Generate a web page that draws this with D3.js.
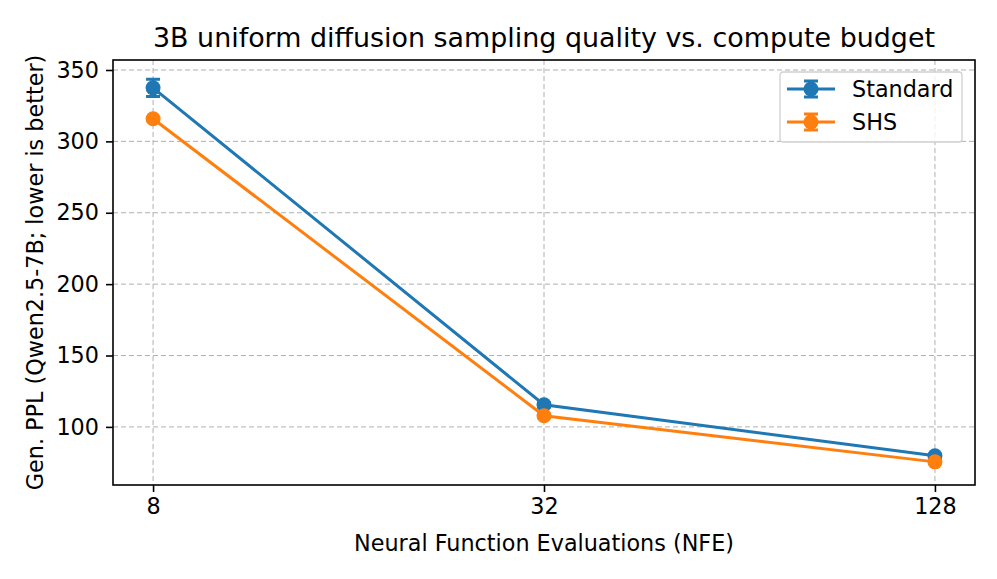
<!DOCTYPE html>
<html>
<head>
<meta charset="utf-8">
<script src="https://cdn.jsdelivr.net/npm/d3@7"></script>
<style>
  body { margin: 0; background: #fff; }
  svg { font-family: "DejaVu Sans", sans-serif; }
</style>
</head>
<body>
<div id="chart"></div>
<script>
// data
const nfe = [8, 32, 128];
const seriesNames = ["Standard", "SHS"];
const standardPpl = [337.5, 115.5, 79.8];
const standardErr = [6, 1.5, 1];
const shsPpl = [315.8, 107.8, 75.5];
const shsErr = [1, 1, 0.8];
const yTicks = [100, 150, 200, 250, 300, 350];
const colors = ["#1f77b4", "#ff7f0e"];

const width = 997, height = 579;
const margin = {top: 60, right: 22, bottom: 94, left: 113};
const fs = 22.3;

const svg = d3.select("#chart").append("svg")
    .attr("width", width)
    .attr("height", height);

const x = d3.scaleLog().base(2)
    .domain([Math.pow(2, 2.795), Math.pow(2, 7.205)])
    .range([margin.left, width - margin.right]);

const y = d3.scaleLinear()
    .domain([59.3, 357])
    .range([height - margin.bottom, margin.top]);

// grid
const grid = svg.append("g");
grid.selectAll(".gx").data(nfe).enter().append("line")
    .attr("x1", d => x(d)).attr("x2", d => x(d))
    .attr("y1", margin.top).attr("y2", height - margin.bottom)
    .attr("stroke", "#b0b0b0").attr("stroke-width", 1).attr("stroke-dasharray", "5,3");
grid.selectAll(".gy").data(yTicks).enter().append("line")
    .attr("x1", margin.left).attr("x2", width - margin.right)
    .attr("y1", d => y(d)).attr("y2", d => y(d))
    .attr("stroke", "#b0b0b0").attr("stroke-width", 1).attr("stroke-dasharray", "5,3");

// axes
const xAxis = svg.append("g")
    .attr("transform", `translate(0,${height - margin.bottom})`)
    .call(d3.axisBottom(x).tickValues(nfe).tickFormat(d3.format("d")).tickSize(7).tickPadding(6));
const yAxis = svg.append("g")
    .attr("transform", `translate(${margin.left},0)`)
    .call(d3.axisLeft(y).tickValues(yTicks).tickSize(7).tickPadding(7));
[xAxis, yAxis].forEach(a => {
    a.select(".domain").remove();
    a.selectAll("text").attr("font-size", fs).attr("fill", "#000").attr("font-family", "DejaVu Sans");
    a.selectAll("line").attr("stroke", "#000").attr("stroke-width", 1.6);
});

// frame
svg.append("rect")
    .attr("x", margin.left).attr("y", margin.top)
    .attr("width", width - margin.left - margin.right)
    .attr("height", height - margin.top - margin.bottom)
    .attr("fill", "none").attr("stroke", "#000").attr("stroke-width", 1.6);

// series
const series = [
    {name: seriesNames[0], vals: standardPpl, err: standardErr, color: colors[0]},
    {name: seriesNames[1], vals: shsPpl, err: shsErr, color: colors[1]}
];
const line = d3.line().x(d => x(d[0])).y(d => y(d[1]));

series.forEach(s => {
    const pts = nfe.map((n, i) => [n, s.vals[i], s.err[i]]);
    const g = svg.append("g");
    g.append("path").datum(pts)
        .attr("d", line).attr("fill", "none")
        .attr("stroke", s.color).attr("stroke-width", 3);
    g.selectAll(".eb").data(pts).enter().append("path")
        .attr("d", d => {
            const cx = x(d[0]), y0 = y(d[1] - d[2]), y1 = y(d[1] + d[2]);
            return `M${cx},${y0}V${y1}M${cx - 7},${y0}H${cx + 7}M${cx - 7},${y1}H${cx + 7}`;
        })
        .attr("stroke", s.color).attr("stroke-width", 3).attr("fill", "none");
    g.selectAll("circle").data(pts).enter().append("circle")
        .attr("cx", d => x(d[0])).attr("cy", d => y(d[1]))
        .attr("r", 7.5).attr("fill", s.color);
});

// legend
const lg = svg.append("g").attr("transform", "translate(780,72)");
lg.append("rect").attr("width", 182).attr("height", 70).attr("rx", 3)
    .attr("fill", "#fff").attr("fill-opacity", 0.8)
    .attr("stroke", "#d0d0d0").attr("stroke-width", 1.3);
series.forEach((s, i) => {
    const cy = 17 + i * 33;
    const item = lg.append("g").attr("transform", `translate(0,${cy})`);
    item.append("line").attr("x1", 7).attr("x2", 55).attr("y1", 0).attr("y2", 0)
        .attr("stroke", s.color).attr("stroke-width", 3);
    item.append("path").attr("d", "M31,-8V8M24,-8H38M24,8H38")
        .attr("stroke", s.color).attr("stroke-width", 3);
    item.append("circle").attr("cx", 31).attr("cy", 0).attr("r", 7.5).attr("fill", s.color);
    item.append("text").attr("x", 72).attr("y", 0).attr("dy", "0.35em")
        .attr("font-size", fs).text(s.name);
});

// title and labels
svg.append("text")
    .attr("x", (margin.left + width - margin.right) / 2).attr("y", 47)
    .attr("text-anchor", "middle").attr("font-size", 26.9)
    .text("3B uniform diffusion sampling quality vs. compute budget");
svg.append("text")
    .attr("x", (margin.left + width - margin.right) / 2).attr("y", 551)
    .attr("text-anchor", "middle").attr("font-size", fs)
    .text("Neural Function Evaluations (NFE)");
svg.append("text")
    .attr("transform", `translate(43,${(margin.top + height - margin.bottom) / 2}) rotate(-90)`)
    .attr("text-anchor", "middle").attr("font-size", fs)
    .text("Gen. PPL (Qwen2.5-7B; lower is better)");
</script>
</body>
</html>
